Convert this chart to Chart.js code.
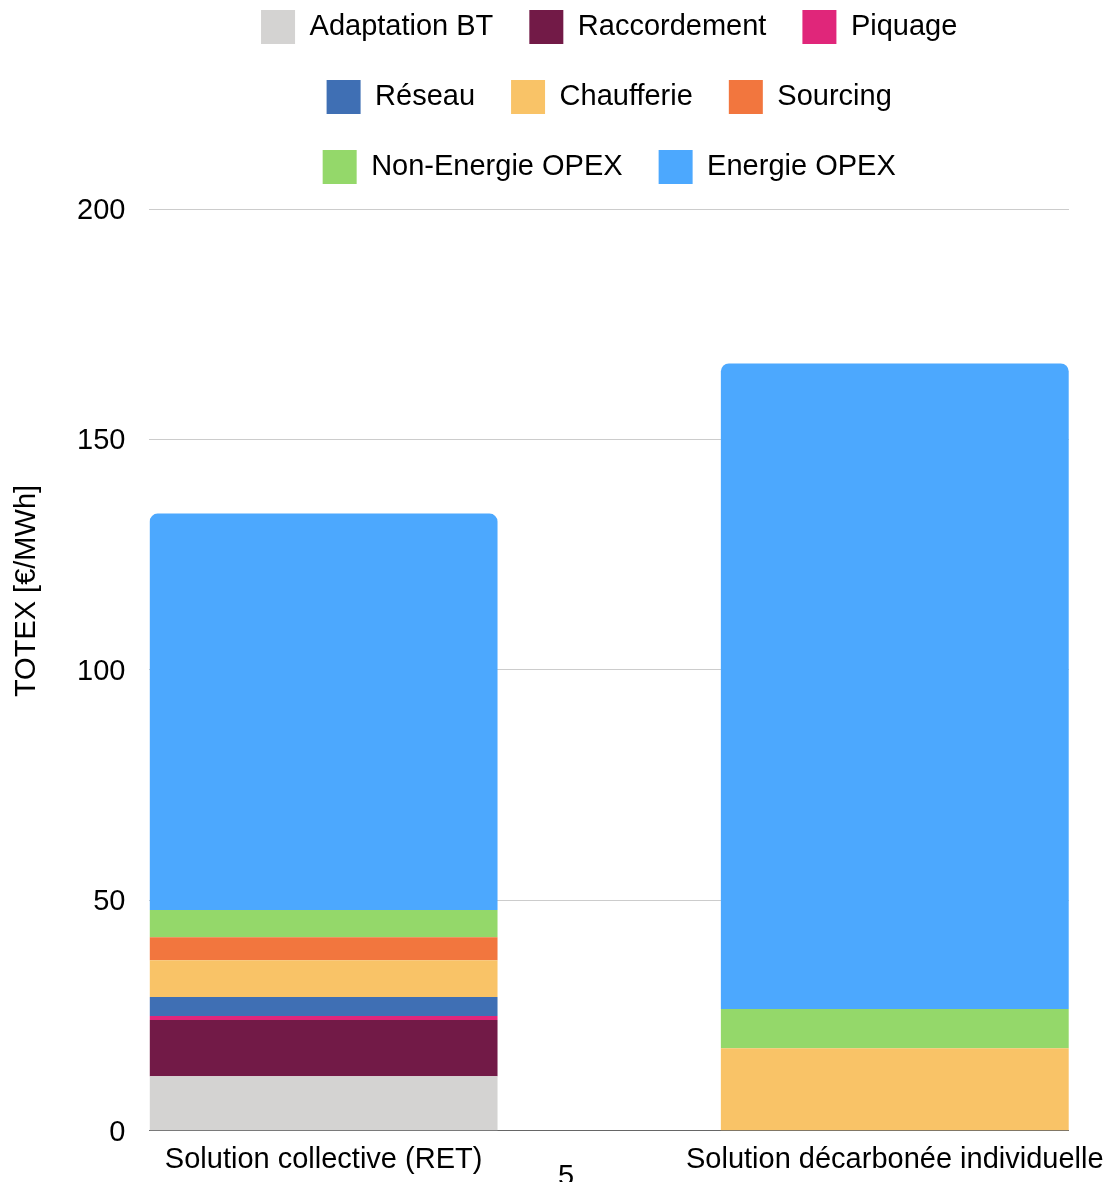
<!DOCTYPE html>
<html>
<head>
<meta charset="utf-8">
<title>TOTEX</title>
<script src="https://cdn.jsdelivr.net/npm/chart.js@4/dist/chart.umd.min.js"></script>
<style>
    html, body { margin: 0; padding: 0; background: #fff; }
    .chart-box { width: 1107px; height: 1182px; position: relative; }
</style>
</head>
<body>
<div class="chart-box"><canvas id="totexChart"></canvas></div>
<script>
// Values (€/MWh)
const categories = ['Solution collective (RET)', 'Solution décarbonée individuelle'];
const adaptationBT   = [11.8, 0];
const raccordement   = [12.2, 0];
const piquage        = [0.9, 0];
const reseau         = [4.1, 0];
const chaufferie     = [8.0, 17.9];
const sourcing       = [5.0, 0];
const nonEnergieOpex = [5.9, 8.5];
const energieOpex    = [86.0, 140.1];
const yTicks = [0, 50, 100, 150, 200];
const yTitle = 'TOTEX [€/MWh]';
const pageNumber = '5';

const FONT = "'Liberation Sans', Arial, sans-serif";
Chart.defaults.font.family = FONT;
Chart.defaults.color = '#000';

function toPoints(values) {
    return values.map((v, i) => ({ x: i, y: v }));
}

const series = [
    { label: 'Adaptation BT', data: adaptationBT, color: '#d4d3d2' },
    { label: 'Raccordement', data: raccordement, color: '#721a47' },
    { label: 'Piquage', data: piquage, color: '#e0267a' },
    { label: 'Réseau', data: reseau, color: '#3f6fb4' },
    { label: 'Chaufferie', data: chaufferie, color: '#f9c367' },
    { label: 'Sourcing', data: sourcing, color: '#f2763e' },
    { label: 'Non-Energie OPEX', data: nonEnergieOpex, color: '#94d86a' },
    { label: 'Energie OPEX', data: energieOpex, color: '#4ca8fe' }
];

// y title centred on the whole picture + the stray page number
const extraText = {
    id: 'extraText',
    afterDraw(chart) {
        const ctx = chart.ctx;
        ctx.save();
        ctx.fillStyle = '#000';
        ctx.font = '29px ' + FONT;
        ctx.textAlign = 'center';
        ctx.textBaseline = 'alphabetic';
        ctx.translate(35, chart.height / 2);
        ctx.rotate(-Math.PI / 2);
        ctx.fillText(yTitle, 0, 0);
        ctx.restore();

        ctx.save();
        ctx.fillStyle = '#000';
        ctx.font = '29px ' + FONT;
        ctx.textAlign = 'center';
        ctx.fillText(pageNumber, 566, 1177);
        ctx.restore();
    }
};

const ctx = document.getElementById('totexChart').getContext('2d');
new Chart(ctx, {
    type: 'bar',
    data: {
        datasets: series.map((s, i) => ({
            label: s.label,
            data: toPoints(s.data),
            backgroundColor: s.color,
            borderWidth: 0,
            borderRadius: i === series.length - 1 ? 8 : 0,
            barPercentage: 0.609,
            categoryPercentage: 1
        }))
    },
    options: {
        responsive: true,
        maintainAspectRatio: false,
        animation: false,
        layout: {
            padding: { top: -26, left: 53, right: 38, bottom: -6.5 }
        },
        plugins: {
            tooltip: { enabled: false },
            title: {
                // empty spacer between legend and plot
                display: true,
                text: '',
                weight: 500,
                padding: 0,
                font: { size: 15, lineHeight: 1 }
            },
            legend: {
                position: 'top',
                fullSize: false,
                labels: {
                    boxWidth: 34,
                    boxHeight: 34,
                    padding: 36,
                    color: '#000',
                    font: { size: 29 }
                }
            }
        },
        scales: {
            x: {
                type: 'linear',
                stacked: true,
                offset: false,
                min: -0.305,
                max: 1.305,
                grid: { display: false, drawTicks: false, offset: false },
                border: { display: false },
                afterBuildTicks: (axis) => {
                    axis.ticks = categories.map((c, i) => ({ value: i }));
                },
                afterFit: (axis) => {
                    axis.paddingLeft = 0;
                    axis.paddingRight = 0;
                },
                ticks: {
                    autoSkip: false,
                    maxRotation: 0,
                    padding: 11.5,
                    color: '#000',
                    font: { size: 29 },
                    callback: (value) => categories[value]
                }
            },
            y: {
                stacked: true,
                min: 0,
                max: 200,
                afterBuildTicks: (axis) => {
                    axis.ticks = yTicks.map(v => ({ value: v }));
                },
                grid: {
                    drawTicks: false,
                    color: (c) => c.tick && c.tick.value === 0 ? '#666666' : '#cccccc'
                },
                border: { display: false },
                ticks: {
                    padding: 24,
                    labelOffset: 2,
                    color: '#000',
                    font: { size: 29 }
                }
            }
        }
    },
    plugins: [extraText]
});
</script>
</body>
</html>
